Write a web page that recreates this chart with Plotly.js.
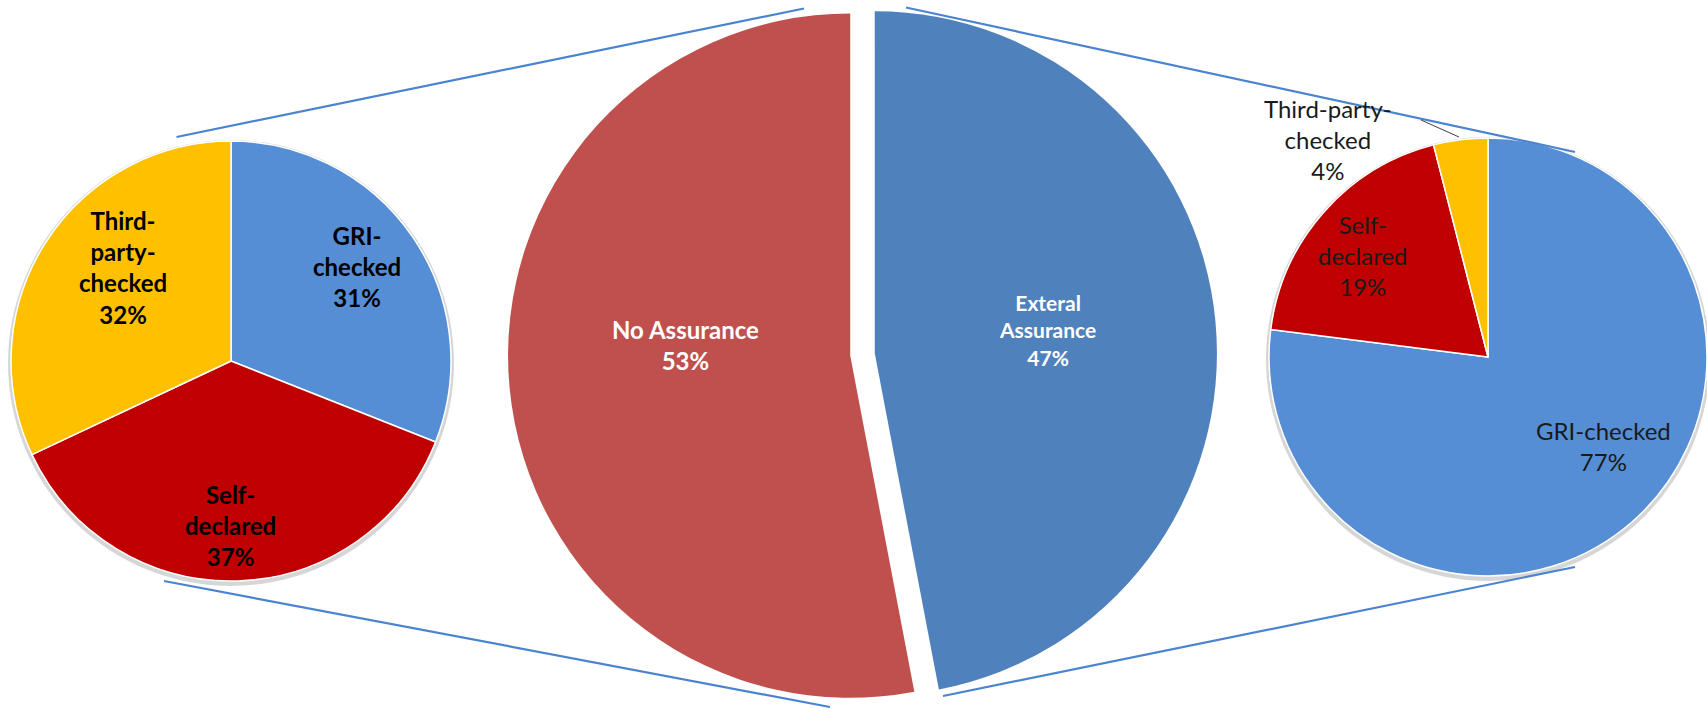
<!DOCTYPE html>
<html>
<head>
<meta charset="utf-8">
<script src="https://cdn.plot.ly/plotly-3.0.1.min.js"></script>
<style>
  body { margin: 0; background: #ffffff; }
  #chart { width: 1707px; height: 709px; }
</style>
</head>
<body>
<div id="chart"></div>
<script>
// Main split (clockwise from 12 o'clock)
const mainLabels = ["Exteral Assurance", "No Assurance"];
const mainValues = [47, 53];

// Left breakdown
const leftLabels = ["GRI-checked", "Self-declared", "Third-party-checked"];
const leftValues = [31, 37, 32];

// Right breakdown
const rightLabels = ["GRI-checked", "Self-declared", "Third-party-checked"];
const rightValues = [77, 19, 4];

// Label text as it is wrapped on the picture
const mainText = ["Exteral<br>Assurance", "No Assurance"];
const leftText = ["GRI-<br>checked", "Self-<br>declared", "Third-<br>party-<br>checked"];
const rightText = ["GRI-checked", "Self-<br>declared", "Third-party-<br>checked"];

const W = 1707;
const H = 709;
const px = (x) => x / W;
const py = (y) => 1 - y / H;

// pie boxes in pixels: centre and radius
const leftPie = { cx: 231, cy: 361, r: 220 };
const rightPie = { cx: 1488, cy: 357, r: 219 };

function domainOf(p) {
  return {
    x: [px(p.cx - p.r), Math.min(1, px(p.cx + p.r))],
    y: [py(p.cy + p.r), py(p.cy - p.r)],
  };
}

const mainTrace = {
  type: "pie",
  labels: mainLabels,
  values: mainValues,
  sort: false,
  direction: "clockwise",
  rotation: 0,
  pull: [0.036, 0.036],
  textinfo: "none",
  hoverinfo: "label+percent",
  marker: { colors: ["#4F81BD", "#C0504D"], line: { width: 0 } },
  domain: { x: [px(862.5 - 354.5), px(862.5 + 354.5)], y: [0, 1] },
};

const leftTrace = {
  type: "pie",
  labels: leftLabels,
  values: leftValues,
  sort: false,
  direction: "clockwise",
  rotation: 0,
  textinfo: "none",
  hoverinfo: "label+percent",
  marker: { colors: ["#558ED5", "#C00000", "#FFC000"], line: { color: "#ffffff", width: 1.5 } },
  domain: domainOf(leftPie),
};

const rightTrace = {
  type: "pie",
  labels: rightLabels,
  values: rightValues,
  sort: false,
  direction: "clockwise",
  rotation: 0,
  textinfo: "none",
  hoverinfo: "label+percent",
  marker: { colors: ["#558ED5", "#C00000", "#FFC000"], line: { color: "#ffffff", width: 1.5 } },
  domain: domainOf(rightPie),
};

// label centres (pixels)
const mainPos = [[1047, 330], [685, 345]];
const leftPos = [[357, 266], [230, 525], [123, 267]];
const rightPos = [[1603, 446], [1363, 255], [1328, 139]];

function makeLabels(text, values, pos, font) {
  return text.map((t, i) => ({
    x: px(pos[i][0]),
    y: py(pos[i][1]),
    xref: "paper",
    yref: "paper",
    xanchor: "center",
    yanchor: "middle",
    text: t + "<br>" + values[i] + "%",
    showarrow: false,
    font: Array.isArray(font) ? font[i] : font,
  }));
}

const annotations = [
  ...makeLabels(mainText, mainValues, mainPos, [
    { family: "Lato", size: 21, color: "#ffffff", weight: "bold" },
    { family: "Lato", size: 24, color: "#ffffff", weight: "bold" },
  ]),
  ...makeLabels(leftText, leftValues, leftPos, { family: "Lato", size: 24, color: "#000000", weight: "bold" }),
  ...makeLabels(rightText, rightValues, rightPos, { family: "Lato", size: 24, color: "#1a1a1a" }),
];

function line(x0, y0, x1, y1, color, width) {
  return {
    type: "line", xref: "paper", yref: "paper", layer: "above",
    x0: px(x0), y0: py(y0), x1: px(x1), y1: py(y1),
    line: { color: color, width: width },
  };
}

function shadow(p) {
  const R = p.r + 3;
  return {
    type: "circle", xref: "paper", yref: "paper", layer: "below",
    x0: px(p.cx - R), x1: px(p.cx + R), y0: py(p.cy + 2 + R), y1: py(p.cy + 2 - R),
    fillcolor: "rgba(0,0,0,0.16)", line: { width: 0 },
  };
}

const shapes = [
  shadow(leftPie),
  shadow(rightPie),
  // connector lines between the pies
  line(176.5, 137, 804, 8.5, "#4A84D0", 2.2),
  line(164, 581, 830, 707, "#4A84D0", 2.2),
  line(906, 7.5, 1575, 152, "#4A84D0", 2.2),
  line(943, 696, 1575, 567, "#4A84D0", 2.2),
  // leader for the small slice
  line(1421, 120, 1459, 137, "#404040", 1),
];

const layout = {
  width: W,
  height: H,
  margin: { l: 0, r: 0, t: 0, b: 0 },
  showlegend: false,
  paper_bgcolor: "#ffffff",
  annotations: annotations,
  shapes: shapes,
};

Plotly.newPlot("chart", [mainTrace, leftTrace, rightTrace], layout, { displayModeBar: false });
</script>
</body>
</html>
